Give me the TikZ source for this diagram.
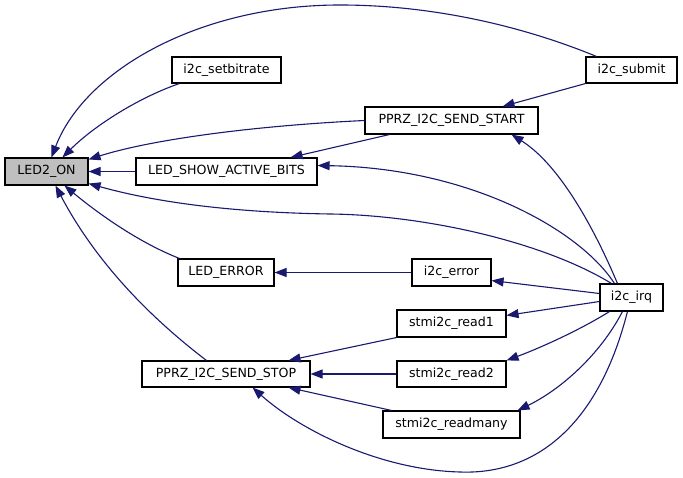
\documentclass[tikz,border=0pt]{standalone}
\usepackage{fontspec}
\setmainfont{DejaVu Sans}
\usetikzlibrary{arrows.meta,calc}
\definecolor{edgeblue}{RGB}{25,25,112}
\definecolor{hilite}{RGB}{191,191,191}
\begin{document}
\begin{tikzpicture}[x=1pt,y=-1pt,
 fn/.style={draw=black,line width=1.1pt,fill=white,inner sep=0pt,font=\fontsize{12.6}{14}\selectfont},
 edge/.style={draw=edgeblue,line width=1.1pt,-{Triangle[length=12pt,width=9pt]}}]
\useasboundingbox[fill=white] (0,0) rectangle (683,478);
% nodes
\node[fn,fill=hilite,minimum width=83pt,minimum height=27pt] (led) at (46.5,171.5) {LED2\_ON};
\node[fn,minimum width=109pt,minimum height=26pt] (setbit) at (226.5,70) {i2c\_setbitrate};
\node[fn,minimum width=181pt,minimum height=27pt] (show) at (226.5,171.5) {LED\_SHOW\_ACTIVE\_BITS};
\node[fn,minimum width=96pt,minimum height=27pt] (lederr) at (226,272.5) {LED\_ERROR};
\node[fn,minimum width=168pt,minimum height=26pt] (stop) at (226,374) {PPRZ\_I2C\_SEND\_STOP};
\node[fn,minimum width=173pt,minimum height=27pt] (start) at (451.5,120.5) {PPRZ\_I2C\_SEND\_START};
\node[fn,minimum width=91pt,minimum height=26pt] (submit) at (631.5,70) {i2c\_submit};
\node[fn,minimum width=79pt,minimum height=27pt] (err) at (451.5,272.5) {i2c\_error};
\node[fn,minimum width=109pt,minimum height=27pt] (rd1) at (451.5,323.5) {stmi2c\_read1};
\node[fn,minimum width=109pt,minimum height=26pt] (rd2) at (451.5,374) {stmi2c\_read2};
\node[fn,minimum width=137pt,minimum height=27pt] (rdm) at (451.5,424.5) {stmi2c\_readmany};
\node[fn,minimum width=63pt,minimum height=27pt] (irq) at (631.5,297.5) {i2c\_irq};
% edges to LED2_ON
\draw[edge] ($(submit.north west)+(11,0)$) .. controls (520,25) and (430,5) .. (340,5)
  .. controls (200,5) and (85,70) .. ($(led.north west)+(47,0)$);
\draw[edge] ($(setbit.south west)+(8,0)$) .. controls (140,97) and (95,125) .. ($(led.north west)+(58,0)$);
\draw[edge] (start.west) .. controls (250,126) and (150,140) .. ($(led.north east)+(0,2)$);
\draw[edge] (show.west) -- (led.east);
\draw[edge] ($(irq.north west)+(12,0)$) .. controls (540,240) and (420,215) .. (330,214)
  .. controls (200,212) and (130,195) .. ($(led.south east)+(0,-2)$);
\draw[edge] ($(lederr.north west)+(2,0)$) .. controls (140,243) and (100,215) .. ($(led.south west)+(60,0)$);
\draw[edge] ($(stop.north west)+(65,0)$) .. controls (160,325) and (100,270) .. ($(led.south west)+(51,0)$);
% edges to START
\draw[edge] (submit.south west) -- ($(start.north east)+(-36,0)$);
\draw[edge] ($(irq.north west)+(18,0)$) .. controls (595,230) and (560,165) .. ($(start.south east)+(-27,0)$);
% edges to LED_SHOW_ACTIVE_BITS
\draw[edge] ($(start.south west)+(25,0)$) -- ($(show.north east)+(-27,0)$);
\draw[edge] ($(irq.north west)+(15,0)$) .. controls (580,230) and (470,168) .. ($(show.east)+(0,-6)$);
% LED_ERROR
\draw[edge] (err.west) -- (lederr.east);
% from i2c_irq
\draw[edge] ($(irq.west)+(0,-4)$) -- ($(err.south east)+(0,-6)$);
\draw[edge] ($(irq.west)+(0,4)$) -- ($(rd1.north east)+(0,6)$);
\draw[edge] ($(irq.south west)+(10,0)$) .. controls (580,330) and (540,348) .. (rd2.north east);
\draw[edge] ($(irq.south west)+(23,0)$) .. controls (600,355) and (560,390) .. ($(rdm.north east)+(-3,0)$);
\draw[edge] ($(irq.south west)+(28,0)$) .. controls (600,420) and (540,475) .. (460,472)
  .. controls (380,470) and (300,430) .. ($(stop.south east)+(-58,0)$);
% to STOP
\draw[edge] (rd1.south west) -- ($(stop.north east)+(-22,0)$);
\draw[edge] (rd2.west) -- (stop.east);
\draw[edge] ($(rdm.north west)+(9,0)$) -- ($(stop.south east)+(-22,0)$);
\end{tikzpicture}
\end{document}
